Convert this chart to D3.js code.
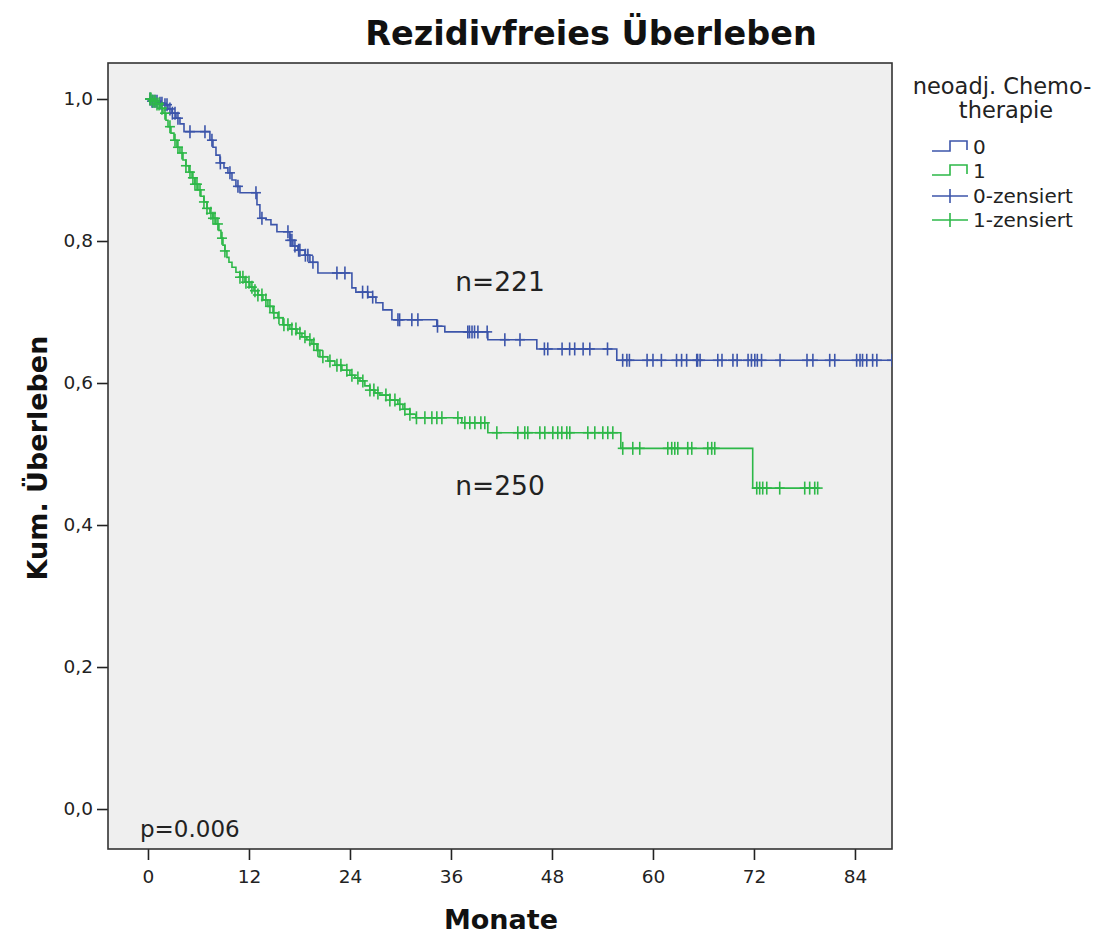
<!DOCTYPE html>
<html>
<head>
<meta charset="utf-8">
<script src="https://cdn.jsdelivr.net/npm/d3@7"></script>
<style>
  html, body { margin: 0; padding: 0; background: #fff; }
  svg { display: block; }
</style>
</head>
<body>
<svg id="chart" width="1105" height="934"></svg>
<script>
// ---- Kaplan–Meier data: recurrence-free survival by neoadjuvant chemotherapy ----
const monthTicks = [0, 12, 24, 36, 48, 60, 72, 84];
const survivalTicks = [0, 0.2, 0.4, 0.6, 0.8, 1.0];
const survivalTickLabels = ["0,0", "0,2", "0,4", "0,6", "0,8", "1,0"];

const groupNames = ["0", "1"];
const groupCounts = ["n=221", "n=250"];
const pValueText = "p=0.006";

// Group 0 (no neoadjuvant chemotherapy): event times (months) and KM estimate after each event
const group0EventTimes = [0.48, 1.19, 1.78, 2.38, 2.85, 3.33, 3.80, 4.28, 7.36, 7.72, 8.08, 8.55, 9.03, 9.50, 9.98,
  10.45, 10.93, 12.95, 13.30, 14.01, 14.61, 15.32, 16.86, 17.22, 17.81, 18.65, 19.24, 20.19, 24.23, 24.70, 26.13,
  27.08, 27.91, 28.98, 34.32, 35.27, 40.38, 46.20, 55.70];
const group0Survival = [0.997, 0.994, 0.992, 0.986, 0.980, 0.973, 0.965, 0.954, 0.942, 0.932, 0.921, 0.910, 0.903,
  0.896, 0.886, 0.877, 0.868, 0.851, 0.832, 0.830, 0.823, 0.813, 0.801, 0.793, 0.787, 0.780, 0.770, 0.755, 0.734,
  0.728, 0.721, 0.713, 0.703, 0.689, 0.680, 0.672, 0.661, 0.648, 0.632];
const group0Censored = [0.24, 0.48, 0.59, 0.83, 1.07, 1.43, 1.66, 2.02, 2.26, 2.61, 2.9, 3.21, 3.56, 4.99, 6.77, 7.6,
  8.6, 9.74, 10.69, 12.83, 13.54, 16.63, 16.9, 17.1, 17.46, 17.9, 18.05, 18.7, 19.0, 19.6, 22.45, 23.4, 25.5, 26.1,
  26.7, 29.7, 29.9, 31.35, 32.07, 34.4, 38.0, 38.2, 38.5, 38.8, 39.2, 40.3, 42.4, 44.2, 47.1, 47.5, 49.2, 50.1, 50.7,
  51.7, 52.5, 54.6, 56.4, 56.9, 57.2, 59.3, 60.0, 61.0, 62.8, 63.4, 64.0, 65.2, 65.3, 65.6, 67.7, 68.2, 69.5, 70.0,
  71.3, 71.7, 72.1, 72.4, 72.9, 75.1, 78.3, 79.0, 81.0, 81.6, 84.2, 84.6, 84.9, 85.4, 86.1, 86.6, 88.4];

// Group 1 (neoadjuvant chemotherapy)
const group1EventTimes = [0.48, 0.95, 1.43, 1.78, 2.14, 2.38, 2.73, 3.09, 3.44, 3.80, 4.16, 4.51, 4.87, 5.23, 5.58,
  5.94, 6.29, 6.65, 7.01, 7.36, 7.72, 8.08, 8.43, 8.67, 8.91, 9.14, 9.38, 9.62, 9.98, 10.45, 10.93, 11.52, 12.11,
  12.59, 13.06, 13.66, 14.25, 14.85, 15.44, 16.03, 16.86, 17.70, 18.29, 18.88, 19.48, 20.07, 20.43, 21.38, 22.21,
  23.04, 23.99, 24.58, 25.18, 25.77, 26.37, 26.96, 27.55, 28.74, 29.69, 30.29, 31.12, 31.83, 37.29, 40.38, 56.18,
  71.85];
const group1Survival = [0.997, 0.993, 0.987, 0.980, 0.970, 0.961, 0.952, 0.942, 0.932, 0.924, 0.914, 0.906, 0.897,
  0.889, 0.880, 0.872, 0.863, 0.855, 0.846, 0.839, 0.832, 0.824, 0.815, 0.804, 0.794, 0.786, 0.777, 0.770, 0.763,
  0.756, 0.749, 0.742, 0.735, 0.730, 0.724, 0.717, 0.708, 0.699, 0.692, 0.682, 0.676, 0.670, 0.665, 0.661, 0.655,
  0.646, 0.637, 0.631, 0.625, 0.618, 0.611, 0.607, 0.603, 0.596, 0.590, 0.586, 0.583, 0.576, 0.570, 0.563, 0.556,
  0.551, 0.544, 0.530, 0.508, 0.452];
const group1Censored = [0.24, 0.36, 0.59, 0.83, 1.07, 1.31, 1.66, 2.02, 2.61, 3.21, 3.56, 4.04, 4.51, 4.99, 5.34,
  5.58, 5.82, 6.18, 6.65, 7.01, 7.48, 7.72, 7.96, 8.31, 8.79, 9.14, 10.93, 11.28, 11.64, 12.0, 12.35, 12.71, 13.06,
  13.54, 14.01, 14.49, 14.96, 15.56, 16.15, 16.63, 17.1, 17.58, 18.05, 18.65, 19.24, 19.71, 20.19, 20.78, 21.62,
  22.45, 22.92, 23.63, 24.23, 24.94, 25.53, 26.37, 26.84, 27.32, 28.27, 28.74, 29.34, 29.93, 30.52, 31.12, 31.9,
  32.9, 33.73, 34.32, 34.92, 36.82, 37.65, 38.24, 38.84, 39.55, 40.02, 41.45, 43.94, 44.77, 45.13, 46.56, 47.15,
  48.1, 48.69, 49.17, 49.76, 50.12, 52.26, 53.09, 54.04, 54.63, 55.23, 56.41, 57.6, 58.43, 61.76, 62.23, 62.59,
  62.95, 64.13, 64.61, 66.51, 66.98, 67.34, 72.33, 72.68, 73.04, 73.52, 75.06, 78.03, 78.62, 79.22, 79.57];

const groupColors = ["#3c55aa", "#2db848"];

// ---- layout ----
const svg = d3.select("#chart");
const plot = { left: 108, right: 892, top: 63, bottom: 849 };

const x = d3.scaleLinear().domain([-4.75, 88.4]).range([plot.left, plot.right]);
const y = d3.scaleLinear().domain([-0.0563, 1.0507]).range([plot.bottom, plot.top]);

const fontFamily = "'DejaVu Sans', 'Liberation Sans', sans-serif";

// plot background
svg.append("rect")
  .attr("x", plot.left).attr("y", plot.top)
  .attr("width", plot.right - plot.left).attr("height", plot.bottom - plot.top)
  .attr("fill", "#efefef");

svg.append("clipPath").attr("id", "plot-clip")
  .append("rect")
  .attr("x", plot.left).attr("y", plot.top)
  .attr("width", plot.right - plot.left).attr("height", plot.bottom - plot.top);

// axes
const xAxis = d3.axisBottom(x).tickValues(monthTicks).tickSize(11).tickPadding(10).tickSizeOuter(0);
const yAxis = d3.axisLeft(y).tickValues(survivalTicks)
  .tickFormat((d, i) => survivalTickLabels[i]).tickSize(11).tickPadding(4).tickSizeOuter(0);

const gx = svg.append("g").attr("transform", `translate(0,${plot.bottom})`).call(xAxis);
const gy = svg.append("g").attr("transform", `translate(${plot.left},0)`).call(yAxis);
[gx, gy].forEach(g => {
  g.select(".domain").remove();
  g.selectAll(".tick line").attr("stroke", "#222").attr("stroke-width", 1.6);
  g.selectAll(".tick text").attr("fill", "#222").style("font-family", fontFamily).style("font-size", "18.5px");
});

// frame around the plot area
svg.append("rect")
  .attr("x", plot.left).attr("y", plot.top)
  .attr("width", plot.right - plot.left).attr("height", plot.bottom - plot.top)
  .attr("fill", "none").attr("stroke", "#333").attr("stroke-width", 1.6);

// ---- survival curves ----
const curves = svg.append("g").attr("clip-path", "url(#plot-clip)");
const stepLine = d3.line().x(d => x(d[0])).y(d => y(d[1])).curve(d3.curveStepAfter);

function survivalAt(times, surv, t) {
  const i = d3.bisectRight(times, t);
  return i === 0 ? 1 : surv[i - 1];
}

const groups = [
  { times: group0EventTimes, surv: group0Survival, cens: group0Censored, color: groupColors[0] },
  { times: group1EventTimes, surv: group1Survival, cens: group1Censored, color: groupColors[1] }
];

groups.forEach(g => {
  const end = d3.max(g.cens.concat(g.times));
  const pts = [[0, 1]].concat(g.times.map((t, i) => [t, g.surv[i]]));
  pts.push([end, survivalAt(g.times, g.surv, end)]);
  curves.append("path")
    .attr("d", stepLine(pts))
    .attr("fill", "none").attr("stroke", g.color).attr("stroke-width", 1.6);

  const marks = curves.append("g").attr("stroke", g.color).attr("stroke-width", 1.6);
  g.cens.forEach(t => {
    const cx = x(t), cy = y(survivalAt(g.times, g.surv, t));
    marks.append("line").attr("x1", cx).attr("x2", cx).attr("y1", cy - 6.5).attr("y2", cy + 6.5);
    marks.append("line").attr("x1", cx - 5).attr("x2", cx + 5).attr("y1", cy).attr("y2", cy);
  });
});

// ---- annotations ----
svg.append("text").attr("x", 500).attr("y", 291)
  .attr("text-anchor", "middle").attr("fill", "#222")
  .style("font-family", fontFamily).style("font-size", "26.5px").text(groupCounts[0]);
svg.append("text").attr("x", 500).attr("y", 495)
  .attr("text-anchor", "middle").attr("fill", "#222")
  .style("font-family", fontFamily).style("font-size", "26.5px").text(groupCounts[1]);
svg.append("text").attr("x", 140).attr("y", 837)
  .attr("fill", "#222").style("font-family", fontFamily).style("font-size", "23px").text(pValueText);

// ---- titles ----
svg.append("text").attr("x", 591).attr("y", 45).attr("text-anchor", "middle")
  .attr("fill", "#111").style("font-family", fontFamily).style("font-weight", "bold").style("font-size", "33.5px")
  .text("Rezidivfreies Überleben");
svg.append("text").attr("x", 501).attr("y", 929).attr("text-anchor", "middle")
  .attr("fill", "#111").style("font-family", fontFamily).style("font-weight", "bold").style("font-size", "27px")
  .text("Monate");
svg.append("text").attr("transform", "translate(47,458) rotate(-90)").attr("text-anchor", "middle")
  .attr("fill", "#111").style("font-family", fontFamily).style("font-weight", "bold").style("font-size", "27px")
  .text("Kum. Überleben");

// ---- legend ----
const legend = svg.append("g").style("font-family", fontFamily).attr("fill", "#222");
legend.append("text").attr("x", 1002).attr("y", 94).attr("text-anchor", "middle").style("font-size", "22.5px")
  .text("neoadj. Chemo-");
legend.append("text").attr("x", 1006).attr("y", 118).attr("text-anchor", "middle").style("font-size", "22.5px")
  .text("therapie");

const legendRows = [
  { label: groupNames[0], color: groupColors[0], kind: "step", y: 147 },
  { label: groupNames[1], color: groupColors[1], kind: "step", y: 171 },
  { label: groupNames[0] + "-zensiert", color: groupColors[0], kind: "cross", y: 196 },
  { label: groupNames[1] + "-zensiert", color: groupColors[1], kind: "cross", y: 220 }
];
legendRows.forEach(r => {
  if (r.kind === "step") {
    legend.append("path")
      .attr("d", `M932,${r.y + 4}H950V${r.y - 6}H967V${r.y + 3}`)
      .attr("fill", "none").attr("stroke", r.color).attr("stroke-width", 1.6);
  } else {
    legend.append("line").attr("x1", 932).attr("x2", 968).attr("y1", r.y).attr("y2", r.y)
      .attr("stroke", r.color).attr("stroke-width", 1.6);
    legend.append("line").attr("x1", 950).attr("x2", 950).attr("y1", r.y - 7).attr("y2", r.y + 7)
      .attr("stroke", r.color).attr("stroke-width", 1.6);
  }
  legend.append("text").attr("x", 973).attr("y", r.y + 7).style("font-size", "20px").text(r.label);
});
</script>
</body>
</html>
